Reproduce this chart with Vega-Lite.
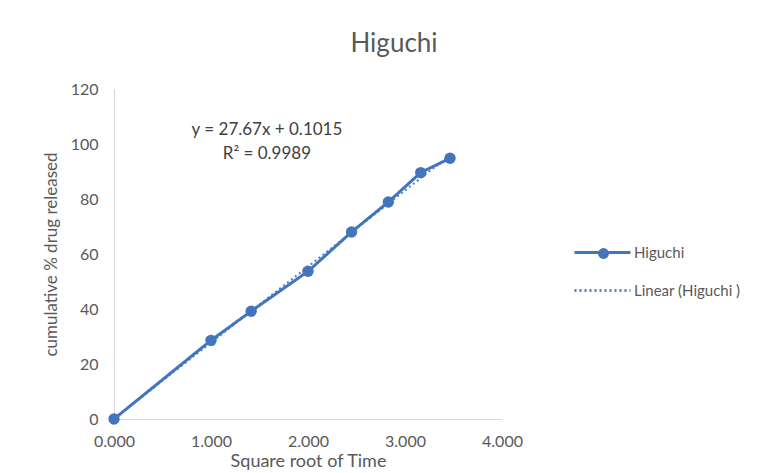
{
  "$schema": "https://vega.github.io/schema/vega-lite/v6.json",
  "width": 388,
  "height": 330,
  "autosize": "none",
  "padding": {"left": 114, "top": 89, "right": 267, "bottom": 54},
  "background": "white",
  "config": {
    "view": {"stroke": null},
    "font": "Lato",
    "axis": {
      "grid": false,
      "ticks": false,
      "domainColor": "#d9d9d9",
      "domainWidth": 1.2,
      "labelColor": "#595959",
      "labelFontSize": 16,
      "labelFont": "Lato",
      "titleColor": "#595959",
      "titleFont": "Lato",
      "titleFontWeight": "normal"
    },
    "legend": {
      "orient": "none",
      "padding": 0,
      "rowPadding": -19,
      "labelFont": "Lato",
      "labelFontSize": 15,
      "labelColor": "#595959",
      "title": null
    }
  },
  "title": {
    "text": "Higuchi",
    "fontSize": 26,
    "font": "Lato",
    "fontWeight": "normal",
    "color": "#595959",
    "anchor": "middle",
    "baseline": "alphabetic",
    "dx": 86,
    "offset": 3
  },
  "datasets": {
    "main": [
      {"x": 0, "y": 0, "series": "Higuchi"},
      {"x": 1, "y": 28.6, "series": "Higuchi"},
      {"x": 1.414, "y": 39.2, "series": "Higuchi"},
      {"x": 2, "y": 53.7, "series": "Higuchi"},
      {"x": 2.449, "y": 68, "series": "Higuchi"},
      {"x": 2.828, "y": 78.9, "series": "Higuchi"},
      {"x": 3.162, "y": 89.6, "series": "Higuchi"},
      {"x": 3.464, "y": 94.8, "series": "Higuchi"}
    ],
    "trend": [
      {"x": 0, "y": 0.1015, "series": "Linear (Higuchi )"},
      {"x": 3.464, "y": 95.95, "series": "Linear (Higuchi )"}
    ],
    "eq": [
      {"x": 1.577, "y": 105, "label": "y = 27.67x + 0.1015"},
      {"x": 1.577, "y": 96.2, "label": "R² = 0.9989"}
    ]
  },
  "encoding": {
    "x": {
      "field": "x",
      "type": "quantitative",
      "scale": {"domain": [0, 4], "nice": false, "zero": true},
      "axis": {
        "values": [0, 1, 2, 3, 4],
        "format": ".3f",
        "labelFlush": false,
        "labelPadding": 14,
        "title": "Square root of Time",
        "titleFontSize": 18,
        "titlePadding": 3
      }
    },
    "y": {
      "field": "y",
      "type": "quantitative",
      "scale": {"domain": [0, 120], "nice": false},
      "axis": {
        "values": [0, 20, 40, 60, 80, 100, 120],
        "labelPadding": 16,
        "title": "cumulative % drug released",
        "titleFontSize": 17,
        "titlePadding": 10
      }
    }
  },
  "layer": [
    {
      "data": {"name": "trend"},
      "mark": {"type": "line", "strokeWidth": 2},
      "encoding": {
        "color": {
          "field": "series",
          "type": "nominal",
          "scale": {"domain": ["Higuchi", "Linear (Higuchi )"], "range": ["#4275BD", "#4A82C6"]},
          "legend": {
            "legendX": 459,
            "legendY": 134,
            "symbolType": "stroke",
            "symbolSize": 3136,
            "symbolStrokeWidth": 3,
            "labelOffset": 2,
            "rowPadding": -19
          }
        },
        "strokeDash": {
          "field": "series",
          "type": "nominal",
          "scale": {"domain": ["Higuchi", "Linear (Higuchi )"], "range": [[1, 0], [2, 3]]},
          "legend": {
            "legendX": 459,
            "legendY": 134,
            "symbolType": "stroke",
            "symbolSize": 3136,
            "symbolStrokeWidth": 3,
            "labelOffset": 2,
            "rowPadding": -19
          }
        }
      }
    },
    {
      "data": {"name": "main"},
      "mark": {"type": "line", "strokeWidth": 3},
      "encoding": {
        "color": {"field": "series", "type": "nominal"},
        "strokeDash": {"field": "series", "type": "nominal"}
      }
    },
    {
      "data": {"name": "main"},
      "mark": {"type": "point", "filled": true, "size": 130, "opacity": 1, "color": "#4275BD"},
      "encoding": {
        "shape": {
          "field": "series",
          "type": "nominal",
          "scale": {"range": ["circle"]},
          "legend": {
            "legendX": 482,
            "legendY": 157,
            "symbolType": "circle",
            "symbolSize": 120,
            "symbolFillColor": "#4275BD",
            "symbolStrokeColor": "#4275BD",
            "symbolOpacity": 1,
            "labelExpr": "''",
            "labelOpacity": 0
          }
        }
      }
    },
    {
      "data": {"name": "eq"},
      "mark": {"type": "text", "fontSize": 17, "font": "Lato", "color": "#404040", "align": "center", "baseline": "middle"},
      "encoding": {
        "text": {"field": "label", "type": "nominal"}
      }
    }
  ]
}
